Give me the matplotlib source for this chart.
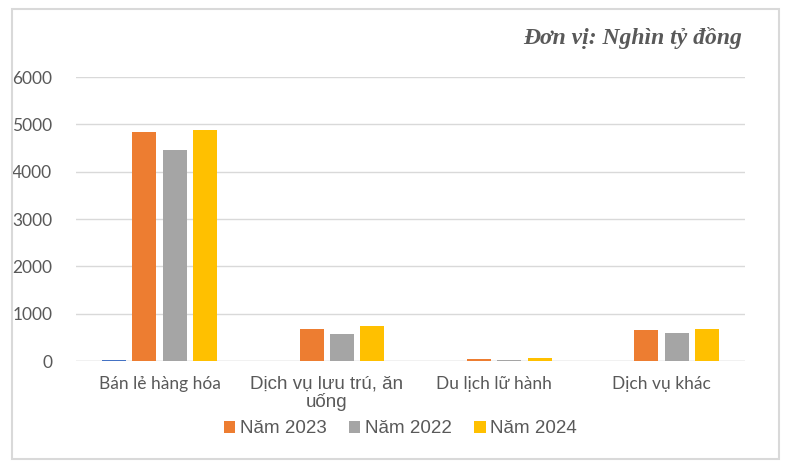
"""
plot.py: Doanh thu theo ngành (nghìn tỷ đồng), 2022-2024
"""
import matplotlib
matplotlib.use("Agg")
import matplotlib.pyplot as plt
from matplotlib.patches import Rectangle
import numpy as np

# Data
categories = ["Bán lẻ hàng hóa", "Dịch vụ lưu trú, ăn\nuống", "Du lịch lữ hành", "Dịch vụ khác"]
series_names = ["_blank", "Năm 2023", "Năm 2022", "Năm 2024"]
blank = [20, 0, 0, 0]
nam_2023 = [4830, 680, 45, 655]
nam_2022 = [4460, 575, 20, 600]
nam_2024 = [4880, 745, 70, 680]
y_ticks = [0, 1000, 2000, 3000, 4000, 5000, 6000]

colors = ["#4472C4", "#ED7D31", "#A5A5A5", "#FFC000"]
text_color = "#595959"

fig = plt.figure(figsize=(7.9, 4.68), dpi=100)
W, H = 790, 468
ax = fig.add_axes([76 / W, 1 - 361 / H, (745 - 76) / W, (361 - 77) / H])

x = np.arange(len(categories))
pitch = 0.181
width = 0.1435
all_series = [blank, nam_2023, nam_2022, nam_2024]
for i, (vals, name) in enumerate(zip(all_series, series_names)):
    lab = "_nolegend_" if name.startswith("_") else name
    ax.bar(x + (i - 1.5) * pitch, vals, width, color=colors[i], label=lab, zorder=3)

ax.set_xlim(-0.5, len(categories) - 0.5)
ax.set_ylim(0, 6000)
ax.set_yticks(y_ticks)
ax.set_yticklabels([str(t) for t in y_ticks], family="Lato", fontsize=12.5, color=text_color)
ax.yaxis.grid(True, color="#d9d9d9", linewidth=1, zorder=0)
ax.tick_params(axis="both", length=0)
ax.tick_params(axis="y", pad=17)
for s in ax.spines.values():
    s.set_visible(False)
ax.axhline(0, color="#d9d9d9", linewidth=1, zorder=2)

# category labels (Excel used mixed fonts here)
ax.set_xticks(x)
ax.set_xticklabels([""] * len(categories))
label_font = ["Lato", "Liberation Sans", "Lato", "Lato"]
label_size = [12.5, 13.5, 12.5, 12.5]
for xi, txt, fam, fs in zip(x, categories, label_font, label_size):
    ax.text(xi, -310, txt, ha="center", va="top", family=fam, fontsize=fs,
            color=text_color, linespacing=1.0)

leg = ax.legend(loc="upper center", bbox_to_anchor=(0.485, -0.15), ncol=3,
                frameon=False, prop={"family": "Liberation Sans", "size": 13.5},
                handlelength=0.6, handleheight=0.6, handletextpad=0.25,
                columnspacing=1.2, labelcolor=text_color)

fig.text(742 / W, 1 - 44 / H, "Đơn vị: Nghìn tỷ đồng", ha="right", va="baseline",
         family="Liberation Serif", weight="bold", style="italic",
         fontsize=17, color=text_color)

# chart border
fig.patches.append(Rectangle((12 / W, 1 - 459 / H), (779 - 12) / W, (459 - 9) / H,
                             transform=fig.transFigure, fill=False,
                             edgecolor="#d9d9d9", linewidth=1.5))

fig.savefig("out.png", dpi=100)
